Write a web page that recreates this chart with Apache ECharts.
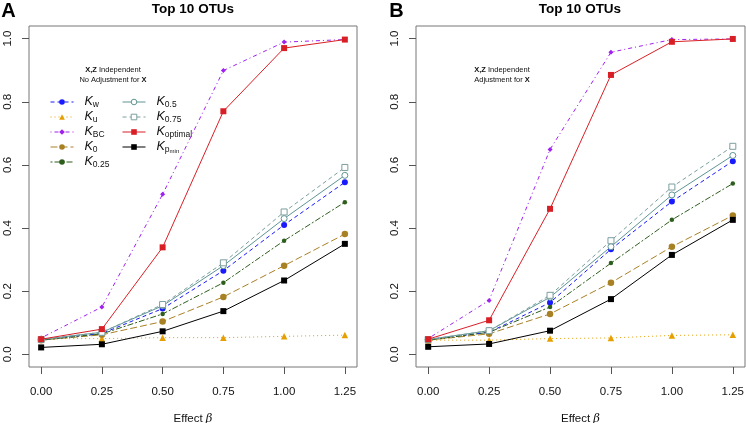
<!DOCTYPE html>
<html><head><meta charset="utf-8">
<script src="https://cdn.jsdelivr.net/npm/echarts@6/dist/echarts.min.js"></script>
<style>html,body{margin:0;padding:0;background:#fff}#c{width:746px;height:423px}</style>
</head><body><div id="c"></div>
<script>
// ---- data ----
const effects = [0, 0.25, 0.5, 0.75, 1.0, 1.25];
const xTicks = [0, 0.25, 0.5, 0.75, 1.0, 1.25];
const yTicks = [0, 0.2, 0.4, 0.6, 0.8, 1.0];
const seriesNames = ['Kw', 'Ku', 'KBC', 'K0', 'K0.25', 'K0.5', 'K0.75', 'Koptimal', 'Kpmin'];

// Panel A: No adjustment for X
const kwA    = [0.047, 0.066, 0.145, 0.265, 0.410, 0.545];
const kuA    = [0.050, 0.050, 0.053, 0.053, 0.057, 0.061];
const kbcA   = [0.052, 0.150, 0.507, 0.899, 0.989, 0.997];
const k0A    = [0.045, 0.062, 0.104, 0.182, 0.281, 0.381];
const k025A  = [0.045, 0.065, 0.128, 0.227, 0.360, 0.482];
const k05A   = [0.047, 0.070, 0.154, 0.281, 0.430, 0.567];
const k075A  = [0.047, 0.070, 0.158, 0.290, 0.451, 0.592];
const koptA  = [0.048, 0.080, 0.339, 0.770, 0.970, 0.997];
const kpminA = [0.022, 0.032, 0.073, 0.137, 0.234, 0.350];

// Panel B: Adjustment for X
const kwB    = [0.047, 0.070, 0.164, 0.333, 0.484, 0.612];
const kuB    = [0.045, 0.045, 0.050, 0.052, 0.060, 0.062];
const kbcB   = [0.050, 0.171, 0.649, 0.957, 0.997, 0.999];
const k0B    = [0.045, 0.065, 0.128, 0.227, 0.341, 0.440];
const k025B  = [0.045, 0.070, 0.150, 0.289, 0.426, 0.541];
const k05B   = [0.047, 0.075, 0.181, 0.341, 0.505, 0.630];
const k075B  = [0.047, 0.075, 0.187, 0.360, 0.530, 0.659];
const koptB  = [0.048, 0.108, 0.461, 0.885, 0.990, 0.999];
const kpminB = [0.024, 0.033, 0.075, 0.175, 0.315, 0.426];

const panelA = [kwA, kuA, kbcA, k0A, k025A, k05A, k075A, koptA, kpminA];
const panelB = [kwB, kuB, kbcB, k0B, k025B, k05B, k075B, koptB, kpminB];

// ---- styles ----
const FONT = '"Liberation Sans", Arial, Helvetica, sans-serif';
const styles = {
  'Kw':       {color:'#1a1aff', dash:[4,3],       symbol:'circle',   size:6,   open:false},
  'Ku':       {color:'#e69f00', dash:[1,3],       symbol:'triangle', size:6.5, open:false},
  'KBC':      {color:'#a020f0', dash:[1,3,4,3],   symbol:'diamond',  size:5,   open:false},
  'K0':       {color:'#a98125', dash:[7,3],       symbol:'circle',   size:6.5, open:false},
  'K0.25':    {color:'#2e5e1e', dash:[2,2,6,2],   symbol:'circle',   size:4.5, open:false},
  'K0.5':     {color:'#5f9595', dash:'solid',     symbol:'circle',   size:6,   open:true},
  'K0.75':    {color:'#7c9e9e', dash:[4,3],       symbol:'rect',     size:6,   open:true},
  'Koptimal': {color:'#d91f26', dash:'solid',     symbol:'rect',     size:6,   open:false},
  'Kpmin':    {color:'#000000', dash:'solid',     symbol:'rect',     size:6,   open:false}
};
const legendLabels = {
  'Kw':'{k|K}{s|w}', 'Ku':'{k|K}{s|u}', 'KBC':'{k|K}{s|BC}', 'K0':'{k|K}{s|0}',
  'K0.25':'{k|K}{s|0.25}', 'K0.5':'{k|K}{s|0.5}', 'K0.75':'{k|K}{s|0.75}',
  'Koptimal':'{k|K}{s|optimal}', 'Kpmin':'{k|K}{s|p}{ss|min}'
};

function itemStyleOf(st) {
  return st.open
    ? {color: '#fff', borderColor: st.color, borderWidth: 1}
    : {color: st.color, borderWidth: 0};
}

function makeSeries(values, gi) {
  return seriesNames.map((nm, i) => {
    const st = styles[nm];
    return {
      name: nm, type: 'line', xAxisIndex: gi, yAxisIndex: gi,
      data: effects.map((x, j) => [x, values[i][j]]),
      symbol: st.symbol, symbolSize: st.size, showSymbol: true,
      lineStyle: {color: st.color, width: 1, type: st.dash},
      itemStyle: itemStyleOf(st),
      emphasis: {disabled: true}, z: 2 + i
    };
  });
}

function xAxisFor(gi) {
  return {
    type: 'value', gridIndex: gi, min: -0.05, max: 1.30,
    axisLine: {show: false, onZero: false},
    splitLine: {show: false},
    axisTick: {show: true, customValues: xTicks, length: 7, inside: false, lineStyle: {color: '#555', width: 1}},
    axisLabel: {customValues: xTicks, formatter: v => v.toFixed(2), margin: 19, fontSize: 11.5, color: '#111', fontFamily: FONT},
    name: 'Effect {b|β}', nameLocation: 'middle', nameGap: 46,
    nameTextStyle: {fontSize: 11.5, color: '#111', fontFamily: FONT,
      rich: {b: {fontSize: 11.5, fontStyle: 'italic', fontFamily: '"DejaVu Serif", serif', color: '#111'}}}
  };
}
function yAxisFor(gi) {
  return {
    type: 'value', gridIndex: gi, min: -0.04, max: 1.04,
    axisLine: {show: false, onZero: false},
    splitLine: {show: false},
    axisTick: {show: true, customValues: yTicks, length: 7, inside: false, lineStyle: {color: '#555', width: 1}},
    axisLabel: {customValues: yTicks, formatter: v => v.toFixed(1), rotate: 90, margin: 15, fontSize: 11.5, color: '#111', fontFamily: FONT}
  };
}

const richLegend = {
  k: {fontSize: 12.5, fontStyle: 'italic', fontFamily: FONT, color: '#111', lineHeight: 14, verticalAlign: 'top', padding: [0, 0, 0, 6]},
  s: {fontSize: 8.5, fontFamily: FONT, color: '#111', lineHeight: 6, verticalAlign: 'bottom'},
  ss: {fontSize: 6, fontFamily: FONT, color: '#111', lineHeight: 3, verticalAlign: 'bottom'}
};
function legendFor(names, left) {
  return {
    data: names.map(nm => ({name: nm, itemStyle: itemStyleOf(styles[nm])})),
    orient: 'vertical', left: left, top: 95, padding: 0,
    itemWidth: 23, itemHeight: 7, itemGap: 1.0, selectedMode: false,
    lineStyle: {width: 1},
    formatter: nm => legendLabels[nm],
    textStyle: {rich: richLegend, fontFamily: FONT}
  };
}

const annotRich = {
  b: {fontWeight: 'bold', fontSize: 7.5, fontFamily: FONT, fill: '#111'},
  n: {fontSize: 7.5, fontFamily: FONT, fill: '#111'}
};
function textEl(x, y, txt, size, weight) {
  return {type: 'text', x: x, y: y, style: {text: txt, fill: '#000', font: weight + ' ' + size + 'px ' + FONT, textAlign: 'center', textVerticalAlign: 'middle'}};
}
function richEl(x, y, txt) {
  return {type: 'text', x: x, y: y, style: {text: txt, fill: '#111', fontSize: 7.5, fontFamily: FONT, textAlign: 'center', textVerticalAlign: 'middle', rich: annotRich}};
}

const chart = echarts.init(document.getElementById('c'), null, {renderer: 'canvas'});
chart.setOption({
  animation: false,
  backgroundColor: '#fff',
  grid: [
    {left: 29, top: 26, width: 328, height: 341, show: true, borderColor: '#777', borderWidth: 1, backgroundColor: 'transparent', outerBoundsMode: 'none', containLabel: false},
    {left: 416, top: 26, width: 329, height: 341, show: true, borderColor: '#777', borderWidth: 1, backgroundColor: 'transparent', outerBoundsMode: 'none', containLabel: false}
  ],
  xAxis: [xAxisFor(0), xAxisFor(1)],
  yAxis: [yAxisFor(0), yAxisFor(1)],
  legend: [legendFor(seriesNames.slice(0, 5), 50), legendFor(seriesNames.slice(5), 122)],
  series: makeSeries(panelA, 0).concat(makeSeries(panelB, 1)),
  graphic: [
    textEl(8.5, 11, 'A', 20, 'bold'),
    textEl(396.5, 11, 'B', 20, 'bold'),
    textEl(193, 9, 'Top 10 OTUs', 13.5, 'bold'),
    textEl(580, 9, 'Top 10 OTUs', 13.5, 'bold'),
    richEl(113, 70, '{b|X,Z} {n|Independent}'),
    richEl(113, 80, '{n|No Adjustment for} {b|X}'),
    richEl(502, 70, '{b|X,Z} {n|Independent}'),
    richEl(502, 80, '{n|Adjustment for} {b|X}')
  ]
});
</script>
</body></html>
